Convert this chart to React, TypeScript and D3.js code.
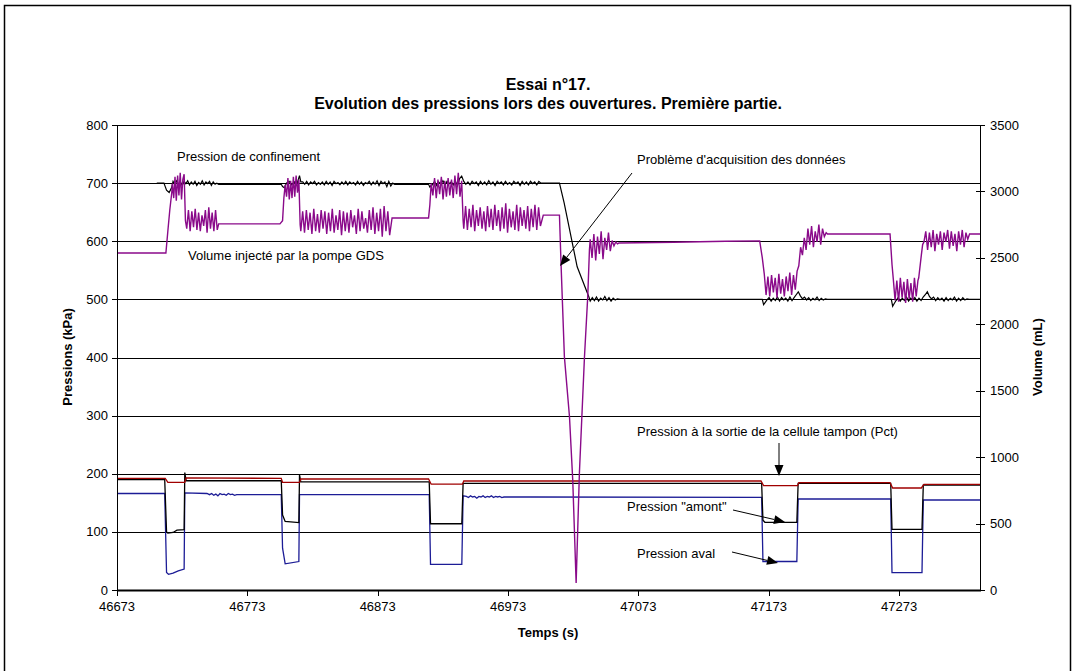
import React from 'react';
import * as d3 from 'd3';

type Pt = [number, number];

const expand = (start: number, step: number, values: number[]): Pt[] =>
  values.map((v, i) => [start + i * step, v] as Pt);

const xTicks = [46673, 46773, 46873, 46973, 47073, 47173, 47273];
const leftTicks = [0, 100, 200, 300, 400, 500, 600, 700, 800];
const rightTicks = [0, 500, 1000, 1500, 2000, 2500, 3000, 3500];

// Volume injecte par la pompe GDS (mL, right axis)
const volA = [3060, 2950, 3110, 2930, 3120, 2970, 3140, 2940, 3090, 3130];
const volB = [2720, 2860, 2700, 2850, 2730, 2870, 2710, 2840, 2700, 2820, 2740, 2860, 2690, 2880, 2720, 2840, 2700, 2860, 2710];
const volC = [3050, 2960, 3100, 2940, 3080, 2950, 3110, 2960, 3120, 2990, 3090];
const volD = [2700, 2850, 2690, 2860, 2710, 2840, 2680, 2870, 2700, 2830, 2690, 2860, 2720, 2850, 2680, 2840, 2700, 2870, 2690, 2820, 2710, 2860, 2670, 2850, 2700, 2840, 2690, 2860, 2730, 2820, 2680, 2870, 2700, 2850, 2720, 2800, 2690, 2860, 2710, 2880, 2680, 2840, 2700, 2870, 2660, 2890, 2700, 2850, 2670];
const volE = [3060, 2970, 3100, 2950, 3090, 2980, 3110, 2940, 3080, 2960, 3100, 2970, 3090, 2950, 3120, 2980, 3140, 2960, 3080];
const volF = [2720, 2890, 2710, 2870, 2730, 2900, 2700, 2860, 2740, 2880, 2720, 2850, 2700, 2890, 2730, 2870, 2710, 2900, 2740, 2860, 2700, 2880, 2720, 2910, 2690, 2870, 2730, 2850, 2710, 2900, 2700, 2880, 2740, 2860, 2720, 2890, 2700, 2870, 2730, 2900, 2710, 2880, 2740];
const volDip: Pt[] = [[47012.4, 2822], [47013.7, 2432], [47016.2, 1755], [47020.1, 1304], [47022.6, 827], [47025.2, 52], [47027.7, 879], [47031.6, 1755], [47034.1, 2209], [47035.4, 2560]];
const volG = [2640, 2500, 2680, 2480, 2660, 2530, 2700, 2490, 2650, 2560, 2690, 2550, 2630, 2590, 2620, 2605];
const volH = [2380, 2220, 2360, 2210, 2370, 2240, 2350, 2200, 2380, 2230, 2340, 2210, 2360, 2250, 2390, 2220, 2370, 2260, 2400];
const volI = [2440, 2580, 2520, 2650, 2560, 2720, 2600, 2740, 2580, 2700, 2620, 2750, 2600, 2720, 2660, 2690];
const volJ = [2340, 2180, 2330, 2170, 2350, 2200, 2320, 2160, 2340, 2190, 2310, 2170, 2350, 2210, 2330];
const volK = [2620, 2700, 2560, 2690, 2580, 2710, 2550, 2680, 2600, 2700, 2560, 2690, 2620, 2710, 2570, 2700, 2590, 2680, 2550, 2700, 2600, 2710, 2580, 2690, 2640];

const volume: Pt[] = [
  [46673, 2537], [46710.5, 2537], [46712, 2700], [46713.5, 2860], [46715, 2990],
  ...expand(46715.5, 1, volA),
  [46725.5, 2780],
  ...expand(46726.5, 1.3, volB),
  [46751, 2756], [46798, 2756], [46800, 2780], [46801, 2950],
  ...expand(46802, 1.05, volC),
  [46813.5, 2750],
  ...expand(46814, 1.42, volD),
  [46884, 2800], [46912, 2800], [46913, 2900],
  ...expand(46914, 1.3, volE),
  [46938.5, 2780],
  ...expand(46939, 1.4, volF),
  [47000, 2822],
  ...volDip,
  ...expand(47036, 1.4, volG),
  [47058, 2612], [47100, 2618], [47140, 2625], [47166, 2628], [47168, 2500],
  ...expand(47169.5, 1.4, volH),
  ...expand(47196, 1.4, volI),
  [47218, 2680], [47266, 2680], [47267.5, 2450],
  ...expand(47268.5, 1.35, volJ),
  [47288, 2350], [47290, 2520], [47291, 2600],
  ...expand(47292, 1.4, volK),
  [47327, 2680], [47335, 2680],
];

// Pression de confinement (kPa)
const confA = [703, 697, 704, 698, 702, 696, 703, 699, 704, 697, 702, 698, 703, 696, 701, 698, 704, 697, 702, 699, 703, 696, 702, 698, 700];
const confB = [702, 698, 703, 697, 702, 699, 703, 697, 701, 698, 702, 697, 703, 698, 702, 696, 703, 699, 701, 697, 702, 698, 703, 697, 702, 699, 701, 697, 703, 698, 702, 696, 701, 699, 703, 697, 702, 698, 704, 696, 703, 699, 702, 694, 703, 695, 700];
const confC = [697, 703, 696, 702, 698, 704, 697, 703, 699, 702, 697, 703, 696, 708, 712, 703, 698, 702, 697, 703, 699, 702, 696, 703, 698, 702, 697, 704, 698, 702, 696, 703, 699, 702, 697, 703, 698, 701, 697, 703, 699, 702, 696, 703, 698, 702, 697, 703, 699, 702, 697, 703, 700];
const confD = [497, 503, 498, 504, 497, 502, 499, 505, 498, 503, 497, 502, 499, 501];
const confE = [494, 499, 503, 497, 502, 498, 504, 497, 503, 499, 502, 497, 504, 498, 503, 508, 513, 506, 501, 504, 499, 503, 498, 502, 499, 504, 498, 502, 499, 501];
const confF = [492, 498, 503, 497, 502, 498, 504, 497, 502, 499, 503, 497, 502, 498, 504, 508, 513, 505, 501, 504, 498, 503, 499, 502, 497, 503, 498, 502, 499, 504, 497, 502, 498, 503, 499, 501, 500];

const confinement: Pt[] = [
  [46703.5, 700], [46709, 700], [46711, 688], [46713, 684], [46715, 693],
  ...expand(46716, 1.4, confA),
  [46751, 698], [46799, 698], [46800, 694], [46801.5, 692], [46803, 700],
  [46805, 703], [46807, 697], [46809, 702], [46811, 698], [46813, 713], [46814, 702],
  ...expand(46815.5, 1.5, confB),
  [46886, 698], [46912, 698], [46913, 693], [46914, 696],
  ...expand(46915, 1.6, confC),
  [47000, 700], [47012.4, 700], [47016, 666], [47026, 556], [47035, 504],
  ...expand(47036, 1.6, confD),
  [47059, 500], [47168, 500], [47169, 491],
  ...expand(47170, 1.6, confE),
  [47218, 500], [47267, 500], [47268, 488],
  ...expand(47269, 1.6, confF),
  [47335, 500],
];

// Pression a la sortie de la cellule tampon (Pct)
const pct: Pt[] = [
  [46673, 192], [46710, 192], [46712, 185], [46725, 185], [46726, 193], [46799, 192],
  [46800, 185], [46813, 185], [46814, 191], [46912, 191], [46914, 182], [46938, 182],
  [46939, 187.5], [47167, 187.5], [47169, 179.5], [47195, 179.5], [47196, 184.6],
  [47266, 184.6], [47268, 175.5], [47290, 175.5], [47292, 181.8], [47335, 181.8],
];

// Pression "amont"
const amont: Pt[] = [
  [46673, 190], [46709.6, 190], [46711, 100], [46712, 98], [46716, 99], [46719, 103],
  [46724.5, 104], [46725, 202], [46726, 188], [46799, 188], [46800, 129], [46802, 118],
  [46812.5, 116], [46813, 198], [46814, 186], [46912.5, 186], [46913.5, 114], [46937.5, 114],
  [46938.5, 183.5], [47167.5, 183.5], [47168.5, 120], [47170, 116.5], [47194.5, 116.5],
  [47195.5, 183.5], [47266.5, 183.5], [47267.5, 104.4], [47290.5, 104.4], [47291.5, 180.6],
  [47335, 180.6],
];

// Pression aval
const avalA = [164, 166, 163, 165, 162, 166, 164, 165, 163, 166, 164, 165, 163, 164];
const avalB = [161, 159, 162, 160, 161, 158, 161, 160, 162, 159, 161, 160, 162, 159, 161, 160, 161, 159, 160, 160];
const aval: Pt[] = [
  [46673, 166], [46709.6, 166], [46711, 30], [46712.5, 27], [46716, 29], [46720, 33],
  [46724.5, 36], [46725, 167], [46742, 166],
  ...expand(46744, 1.6, avalA),
  [46766, 164], [46799, 164], [46800, 72], [46802, 45], [46812.5, 49], [46813, 164],
  [46912.5, 164], [46913.5, 44], [46937.5, 44], [46938.5, 162],
  ...expand(46941, 1.6, avalB),
  [46990, 160], [47167.5, 159.5], [47168.5, 49], [47194.5, 49], [47195.5, 156.6],
  [47266.5, 156.6], [47267.5, 29.8], [47290.5, 29.8], [47291.5, 154.8], [47335, 154.8],
];

const W = 1076;
const H = 671;
const M = { left: 117, right: 980, top: 125, bottom: 590 };
const FONT = '"Liberation Sans", Arial, sans-serif';

const Arrow = ({ x1, y1, x2, y2 }: { x1: number; y1: number; x2: number; y2: number }) => {
  const a = Math.atan2(y2 - y1, x2 - x1);
  const len = 11;
  const half = 4.5;
  const bx = x2 - len * Math.cos(a);
  const by = y2 - len * Math.sin(a);
  const px = -Math.sin(a) * half;
  const py = Math.cos(a) * half;
  return (
    <g>
      <line x1={x1} y1={y1} x2={bx} y2={by} stroke="#000" strokeWidth={1} />
      <polygon points={`${x2},${y2} ${bx + px},${by + py} ${bx - px},${by - py}`} fill="#000" />
    </g>
  );
};

export default function App() {
  const x = d3.scaleLinear().domain([46673, 47335]).range([M.left, M.right]);
  const yL = d3.scaleLinear().domain([0, 800]).range([M.bottom, M.top]);
  const yR = d3.scaleLinear().domain([0, 3500]).range([M.bottom, M.top]);

  const lineL = d3.line<Pt>().x(d => x(d[0])).y(d => yL(d[1]));
  const lineR = d3.line<Pt>().x(d => x(d[0])).y(d => yR(d[1]));

  const txt = { fontFamily: FONT, fontSize: 13, fill: '#000' } as const;

  return (
    <svg width={W} height={H} style={{ position: 'absolute', left: 0, top: 0, background: '#fff' }}>
      <rect x={4.5} y={5.5} width={1066} height={720} fill="#fff" stroke="#000" strokeWidth={1.5} />

      <g fontFamily={FONT} fontWeight="bold" fontSize={16} textAnchor="middle">
        <text x={548} y={90}>Essai n°17.</text>
        <text x={548} y={109}>Evolution des pressions lors des ouvertures. Première partie.</text>
      </g>

      {/* gridlines */}
      {leftTicks.map(t => (
        <line key={t} x1={M.left} x2={M.right} y1={Math.round(yL(t)) + 0.5} y2={Math.round(yL(t)) + 0.5} stroke="#000" strokeWidth={1} />
      ))}

      {/* series */}
      <path d={lineL(aval) ?? ''} fill="none" stroke="#1c1c96" strokeWidth={1.3} />
      <path d={lineL(amont) ?? ''} fill="none" stroke="#000" strokeWidth={1.3} />
      <path d={lineL(pct) ?? ''} fill="none" stroke="#a00000" strokeWidth={1.3} />
      <path d={lineL(confinement) ?? ''} fill="none" stroke="#000" strokeWidth={1.2} />
      <path d={lineR(volume) ?? ''} fill="none" stroke="#8a0a8a" strokeWidth={1.4} />

      {/* axes */}
      <line x1={M.left + 0.5} x2={M.left + 0.5} y1={M.top} y2={M.bottom} stroke="#000" />
      <line x1={M.right + 0.5} x2={M.right + 0.5} y1={M.top} y2={M.bottom} stroke="#000" />
      <line x1={M.left} x2={M.right + 1} y1={M.bottom + 0.5} y2={M.bottom + 0.5} stroke="#000" strokeWidth={2} />

      {leftTicks.map(t => (
        <g key={t}>
          <line x1={M.left - 5} x2={M.left} y1={Math.round(yL(t)) + 0.5} y2={Math.round(yL(t)) + 0.5} stroke="#000" />
          <text {...txt} x={M.left - 9} y={yL(t) + 4.5} textAnchor="end">{t}</text>
        </g>
      ))}
      {rightTicks.map(t => (
        <g key={t}>
          <line x1={M.right - 4} x2={M.right + 5} y1={Math.round(yR(t)) + 0.5} y2={Math.round(yR(t)) + 0.5} stroke="#000" />
          <text {...txt} x={M.right + 10} y={yR(t) + 4.5} textAnchor="start">{t}</text>
        </g>
      ))}
      {xTicks.map(t => (
        <g key={t}>
          <line x1={Math.round(x(t)) + 0.5} x2={Math.round(x(t)) + 0.5} y1={M.bottom} y2={M.bottom + 6} stroke="#000" />
          <text {...txt} x={x(t)} y={611} textAnchor="middle">{t}</text>
        </g>
      ))}

      <g fontFamily={FONT} fontWeight="bold" fontSize={13} textAnchor="middle">
        <text x={548} y={637}>Temps (s)</text>
        <text transform={`translate(72,357) rotate(-90)`}>Pressions (kPa)</text>
        <text transform={`translate(1042,357) rotate(-90)`}>Volume (mL)</text>
      </g>

      {/* annotations */}
      <g {...txt}>
        <text x={177} y={161}>Pression de confinement</text>
        <text x={188} y={260}>Volume injecté par la pompe GDS</text>
        <text x={637} y={164}>Problème d'acquisition des données</text>
        <text x={637} y={436}>Pression à la sortie de la cellule tampon (Pct)</text>
        <text x={627} y={511}>Pression "amont"</text>
        <text x={637} y={558}>Pression aval</text>
      </g>
      <Arrow x1={632} y1={173} x2={560} y2={266} />
      <Arrow x1={779} y1={443} x2={779} y2={476} />
      <Arrow x1={733} y1={510} x2={785} y2={522} />
      <Arrow x1={732} y1={552} x2={778} y2={563} />
    </svg>
  );
}
